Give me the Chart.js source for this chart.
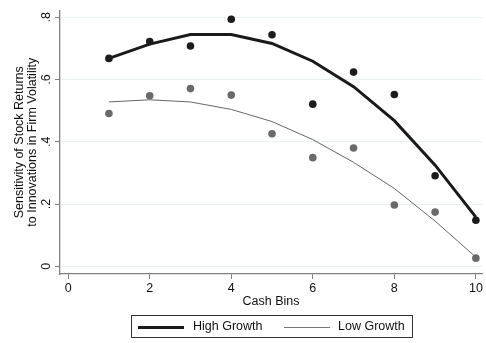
<!DOCTYPE html>
<html lang="en">
  <head>
    <meta charset="UTF-8" />
    <title>Sensitivity by Cash Bins</title>
    <script src="https://cdn.jsdelivr.net/npm/chart.js"></script>
    <style>
      body {
        margin: 0;
        background: #ffffff;
        font-family: 'Liberation Sans', Arial, sans-serif;
      }
      .wrap {
        position: relative;
        width: 486px;
        height: 343px;
      }
      .legend {
        position: absolute;
        left: 131px;
        top: 315px;
        width: 282px;
        height: 23px;
        border: 1px solid #333;
        box-sizing: border-box;
        font-size: 12.5px;
        color: #111;
      }
      .legend .sample {
        position: absolute;
        top: 11px;
        width: 46px;
      }
      .legend .label {
        position: absolute;
        top: 3px;
        white-space: nowrap;
      }
    </style>
  </head>
  <body>
    <div class="wrap">
      <canvas id="chart" width="486" height="343"></canvas>
      <div class="legend">
        <div class="sample" style="left: 6px; border-top: 3px solid #1a1a1a; margin-top: -1px"></div>
        <div class="label" style="left: 61px">High Growth</div>
        <div class="sample" style="left: 152px; border-top: 1px solid #777"></div>
        <div class="label" style="left: 206px">Low Growth</div>
      </div>
    </div>

    <script>
      // данные
      const bins = [1, 2, 3, 4, 5, 6, 7, 8, 9, 10]
      const highPoints = [0.668, 0.722, 0.708, 0.794, 0.744, 0.521, 0.624, 0.552, 0.291, 0.148]
      const highFit = [0.668, 0.714, 0.745, 0.745, 0.716, 0.659, 0.577, 0.468, 0.325, 0.158]
      const lowPoints = [0.491, 0.548, 0.571, 0.55, 0.426, 0.349, 0.38, 0.197, 0.174, 0.026]
      const lowFit = [0.528, 0.535, 0.528, 0.504, 0.465, 0.407, 0.334, 0.25, 0.145, 0.029]
      const xTicks = [0, 2, 4, 6, 8, 10]
      const yTicks = [0, 0.2, 0.4, 0.6, 0.8]

      const font = { family: "'Liberation Sans', Arial, sans-serif", size: 12.5 }
      const axisGray = '#808080'

      function toXY(values) {
        return bins.map((b, i) => ({ x: b, y: values[i] }))
      }

      function yLabel(v) {
        return v === 0 ? '0' : String(v).replace('0.', '.')
      }

      new Chart(document.getElementById('chart'), {
        type: 'scatter',
        data: {
          datasets: [
            {
              label: 'High Growth',
              data: toXY(highFit),
              showLine: true,
              borderColor: '#1a1a1a',
              borderWidth: 3,
              pointRadius: 0,
              order: 2,
            },
            {
              label: 'Low Growth',
              data: toXY(lowFit),
              showLine: true,
              borderColor: '#666666',
              borderWidth: 1,
              pointRadius: 0,
              order: 2,
            },
            {
              label: 'high points',
              data: toXY(highPoints),
              backgroundColor: '#1c1c1c',
              borderWidth: 0,
              pointRadius: 3.8,
              order: 1,
            },
            {
              label: 'low points',
              data: toXY(lowPoints),
              backgroundColor: '#6a6a6a',
              borderWidth: 0,
              pointRadius: 3.8,
              order: 1,
            },
          ],
        },
        options: {
          responsive: false,
          animation: false,
          devicePixelRatio: 1,
          layout: { padding: { top: 5, right: 0, bottom: 29, left: 0 } },
          plugins: {
            legend: { display: false },
            tooltip: { enabled: false },
          },
          scales: {
            x: {
              type: 'linear',
              min: -0.2,
              max: 10.15,
              afterBuildTicks: (s) => {
                s.ticks = xTicks.map((v) => ({ value: v }))
              },
              afterFit: (s) => {
                s.height = 40
              },
              ticks: { font: font, color: '#111', padding: 2, maxRotation: 0 },
              grid: { drawOnChartArea: false, tickColor: axisGray, tickLength: 5 },
              border: { color: axisGray, width: 1.3 },
              title: {
                display: true,
                text: 'Cash Bins',
                font: font,
                color: '#111',
                padding: { top: 0, bottom: 5 },
              },
            },
            y: {
              type: 'linear',
              min: -0.025,
              max: 0.822,
              afterBuildTicks: (s) => {
                s.ticks = yTicks.map((v) => ({ value: v }))
              },
              afterFit: (s) => {
                s.width = 60
              },
              ticks: {
                font: font,
                color: '#111',
                padding: 3,
                minRotation: 90,
                maxRotation: 90,
                crossAlign: 'center',
                callback: (v) => yLabel(v),
              },
              grid: { color: '#e8f0f0', tickColor: axisGray, tickLength: 5 },
              border: { color: axisGray, width: 1.3 },
              title: {
                display: true,
                text: ['Sensitivity of Stock Returns', 'to Innovations in Firm Volatility'],
                font: { family: font.family, size: 12.5, lineHeight: 1.05 },
                color: '#111',
                padding: { top: 13, bottom: 0 },
              },
            },
          },
        },
      })
    </script>
  </body>
</html>
